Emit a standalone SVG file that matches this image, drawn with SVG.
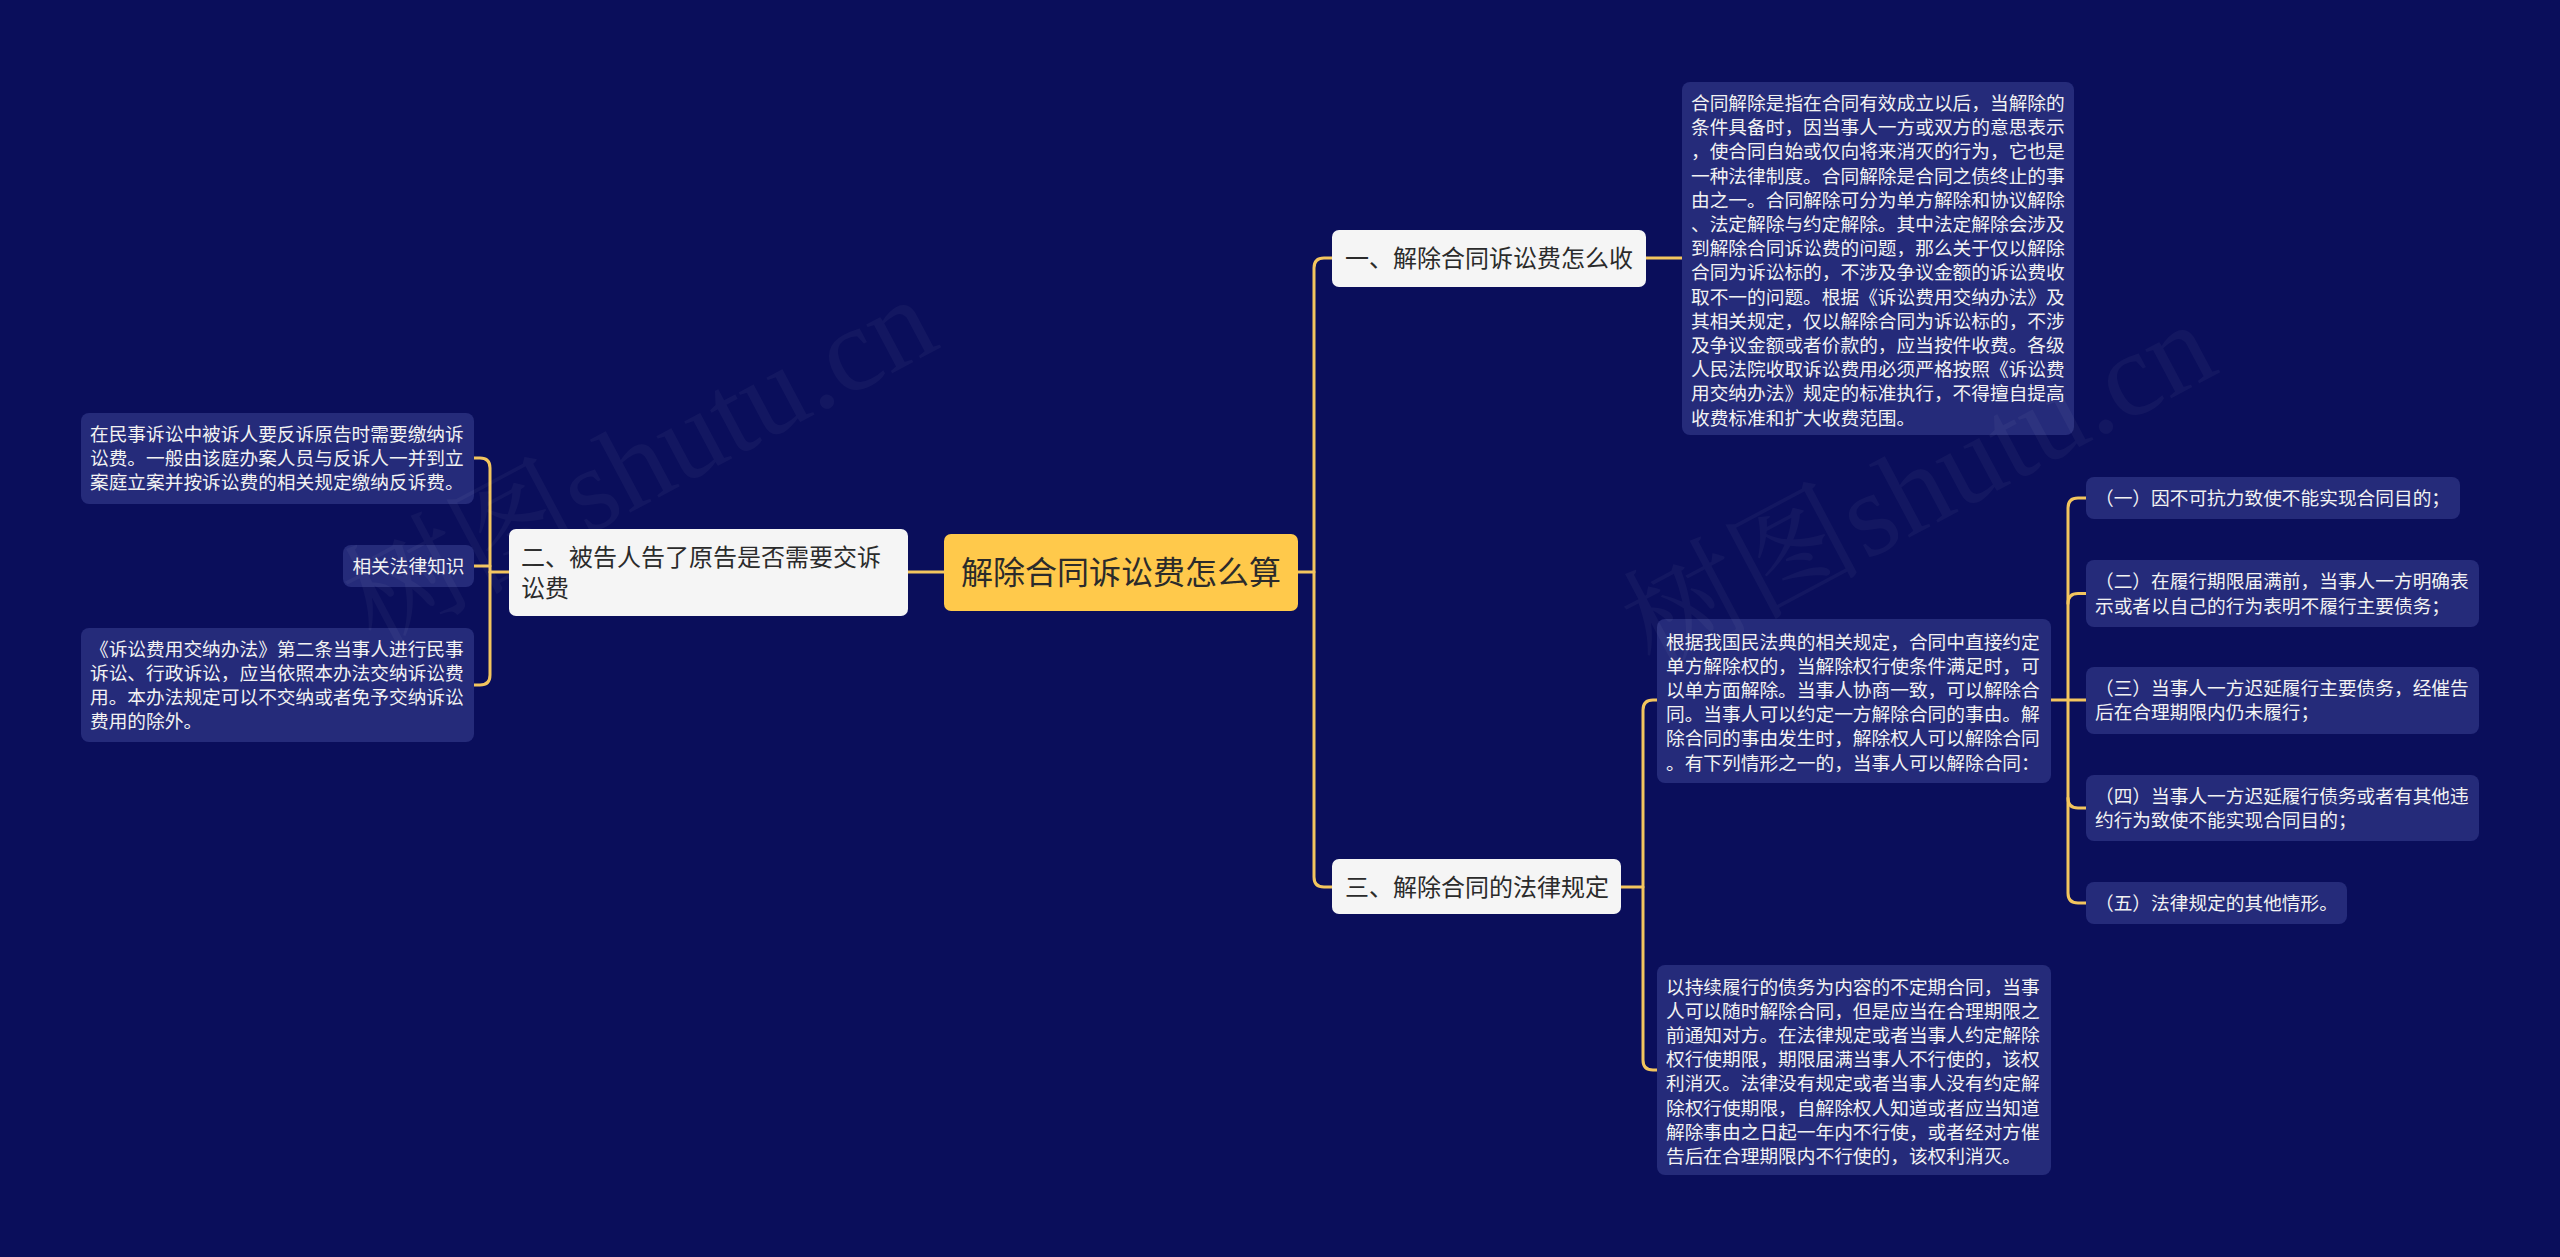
<svg xmlns="http://www.w3.org/2000/svg" width="2560" height="1257" viewBox="0 0 2560 1257">
<defs>
<style>
.bg{fill:#0a0e5b}
.leaf{fill:#252b7a}
.main{fill:#f5f5f5}
.root{fill:#ffc94b}
.lt{font-family:"Noto Sans CJK SC","Noto Sans",sans-serif;font-size:18.7px;fill:#f2f2f2}
.mt{font-family:"Noto Sans CJK SC","Noto Sans",sans-serif;font-size:24px;fill:#2b2b2b}
.rt{font-family:"Noto Sans CJK SC","Noto Sans",sans-serif;font-size:32px;fill:#2b2b2b}
.con path{fill:none;stroke:#f3c55e;stroke-width:3;stroke-linecap:round}
.wm{font-family:"Liberation Serif","Noto Serif CJK SC","Noto Sans CJK SC",serif;font-size:120px;fill:#ffffff;opacity:0.035}
</style>
</defs>
<rect class="bg" x="0" y="0" width="2560" height="1257"/>

<g id="connectors" class="con">
<path d="M1298,572 H1314"/>
<path d="M1332,258 H1324 Q1314,258 1314,268 V877 Q1314,887 1324,887 H1332"/>
<path d="M944,572 H908"/>
<path d="M509,572 H490"/>
<path d="M474,458 H480 Q490,458 490,468 V675 Q490,685 480,685 H474"/>
<path d="M474,566 H490"/>
<path d="M1646,258 H1682"/>
<path d="M1621,887 H1643"/>
<path d="M1657,700 H1653 Q1643,700 1643,710 V1060 Q1643,1070 1653,1070 H1657"/>
<path d="M2051,700 H2086"/>
<path d="M2086,498 H2078 Q2068,498 2068,508 V893 Q2068,903 2078,903 H2086"/>
<path d="M2086,593.5 H2078 Q2068,593.5 2068,603.5"/>
<path d="M2086,808 H2078 Q2068,808 2068,798"/>
</g>

<g id="root">
<rect class="root" x="944" y="534" width="354" height="77" rx="7"/>
<text class="rt" x="1121" y="584" text-anchor="middle">解除合同诉讼费怎么算</text>
</g>

<g id="n1">
<rect class="main" x="1332" y="230" width="314" height="57" rx="7"/>
<text class="mt" x="1345" y="267">一、解除合同诉讼费怎么收</text>
</g>

<g id="n2">
<rect class="main" x="509" y="529" width="399" height="87" rx="7"/>
<text class="mt" x="521" y="566">二、被告人告了原告是否需要交诉<tspan x="521" dy="31">讼费</tspan></text>
</g>

<g id="n3">
<rect class="main" x="1332" y="859" width="289" height="55" rx="7"/>
<text class="mt" x="1345" y="896">三、解除合同的法律规定</text>
</g>

<g id="l1">
<rect class="leaf" x="1682" y="82" width="392" height="353" rx="8"/>
<text class="lt" x="1691" y="110">合同解除是指在合同有效成立以后，当解除的<tspan x="1691" dy="24.2">条件具备时，因当事人一方或双方的意思表示</tspan><tspan x="1691" dy="24.2">，使合同自始或仅向将来消灭的行为，它也是</tspan><tspan x="1691" dy="24.2">一种法律制度。合同解除是合同之债终止的事</tspan><tspan x="1691" dy="24.2">由之一。合同解除可分为单方解除和协议解除</tspan><tspan x="1691" dy="24.2">、法定解除与约定解除。其中法定解除会涉及</tspan><tspan x="1691" dy="24.2">到解除合同诉讼费的问题，那么关于仅以解除</tspan><tspan x="1691" dy="24.2">合同为诉讼标的，不涉及争议金额的诉讼费收</tspan><tspan x="1691" dy="24.2">取不一的问题。根据《诉讼费用交纳办法》及</tspan><tspan x="1691" dy="24.2">其相关规定，仅以解除合同为诉讼标的，不涉</tspan><tspan x="1691" dy="24.2">及争议金额或者价款的，应当按件收费。各级</tspan><tspan x="1691" dy="24.2">人民法院收取诉讼费用必须严格按照《诉讼费</tspan><tspan x="1691" dy="24.2">用交纳办法》规定的标准执行，不得擅自提高</tspan><tspan x="1691" dy="24.2">收费标准和扩大收费范围。</tspan></text>
</g>

<g id="l2">
<rect class="leaf" x="81" y="413" width="393" height="91" rx="8"/>
<text class="lt" x="90" y="441">在民事诉讼中被诉人要反诉原告时需要缴纳诉<tspan x="90" dy="24.2">讼费。一般由该庭办案人员与反诉人一并到立</tspan><tspan x="90" dy="24.2">案庭立案并按诉讼费的相关规定缴纳反诉费。</tspan></text>
</g>

<g id="l3">
<rect class="leaf" x="343" y="545" width="131" height="42" rx="8"/>
<text class="lt" x="408.5" y="573" text-anchor="middle">相关法律知识</text>
</g>

<g id="l4">
<rect class="leaf" x="81" y="628" width="393" height="114" rx="8"/>
<text class="lt" x="90" y="655.6">《诉讼费用交纳办法》第二条当事人进行民事<tspan x="90" dy="24.2">诉讼、行政诉讼，应当依照本办法交纳诉讼费</tspan><tspan x="90" dy="24.2">用。本办法规定可以不交纳或者免予交纳诉讼</tspan><tspan x="90" dy="24.2">费用的除外。</tspan></text>
</g>

<g id="l5">
<rect class="leaf" x="1657" y="619" width="394" height="164" rx="8"/>
<text class="lt" x="1666" y="648.5">根据我国民法典的相关规定，合同中直接约定<tspan x="1666" dy="24.2">单方解除权的，当解除权行使条件满足时，可</tspan><tspan x="1666" dy="24.2">以单方面解除。当事人协商一致，可以解除合</tspan><tspan x="1666" dy="24.2">同。当事人可以约定一方解除合同的事由。解</tspan><tspan x="1666" dy="24.2">除合同的事由发生时，解除权人可以解除合同</tspan><tspan x="1666" dy="24.2">。有下列情形之一的，当事人可以解除合同：</tspan></text>
</g>

<g id="l6">
<rect class="leaf" x="1657" y="965" width="394" height="210" rx="8"/>
<text class="lt" x="1666" y="993.5">以持续履行的债务为内容的不定期合同，当事<tspan x="1666" dy="24.2">人可以随时解除合同，但是应当在合理期限之</tspan><tspan x="1666" dy="24.2">前通知对方。在法律规定或者当事人约定解除</tspan><tspan x="1666" dy="24.2">权行使期限，期限届满当事人不行使的，该权</tspan><tspan x="1666" dy="24.2">利消灭。法律没有规定或者当事人没有约定解</tspan><tspan x="1666" dy="24.2">除权行使期限，自解除权人知道或者应当知道</tspan><tspan x="1666" dy="24.2">解除事由之日起一年内不行使，或者经对方催</tspan><tspan x="1666" dy="24.2">告后在合理期限内不行使的，该权利消灭。</tspan></text>
</g>

<g id="c1">
<rect class="leaf" x="2086" y="477" width="374" height="42" rx="8"/>
<text class="lt" x="2095" y="505">（一）因不可抗力致使不能实现合同目的；</text>
</g>
<g id="c2">
<rect class="leaf" x="2086" y="560" width="393" height="67" rx="8"/>
<text class="lt" x="2095" y="588.4">（二）在履行期限届满前，当事人一方明确表<tspan x="2095" dy="24.2">示或者以自己的行为表明不履行主要债务；</tspan></text>
</g>
<g id="c3">
<rect class="leaf" x="2086" y="667" width="393" height="67" rx="8"/>
<text class="lt" x="2095" y="695">（三）当事人一方迟延履行主要债务，经催告<tspan x="2095" dy="24.2">后在合理期限内仍未履行；</tspan></text>
</g>
<g id="c4">
<rect class="leaf" x="2086" y="775" width="393" height="66" rx="8"/>
<text class="lt" x="2095" y="803">（四）当事人一方迟延履行债务或者有其他违<tspan x="2095" dy="24.2">约行为致使不能实现合同目的；</tspan></text>
</g>
<g id="c5">
<rect class="leaf" x="2086" y="882" width="261" height="42" rx="8"/>
<text class="lt" x="2095" y="910">（五）法律规定的其他情形。</text>
</g>

<g id="watermark">
<text class="wm" x="648" y="500" text-anchor="middle" transform="rotate(-28 648 477)">树图shutu.cn</text>
<text class="wm" x="1927" y="525" text-anchor="middle" transform="rotate(-28 1927 502)">树图shutu.cn</text>
</g>
</svg>
